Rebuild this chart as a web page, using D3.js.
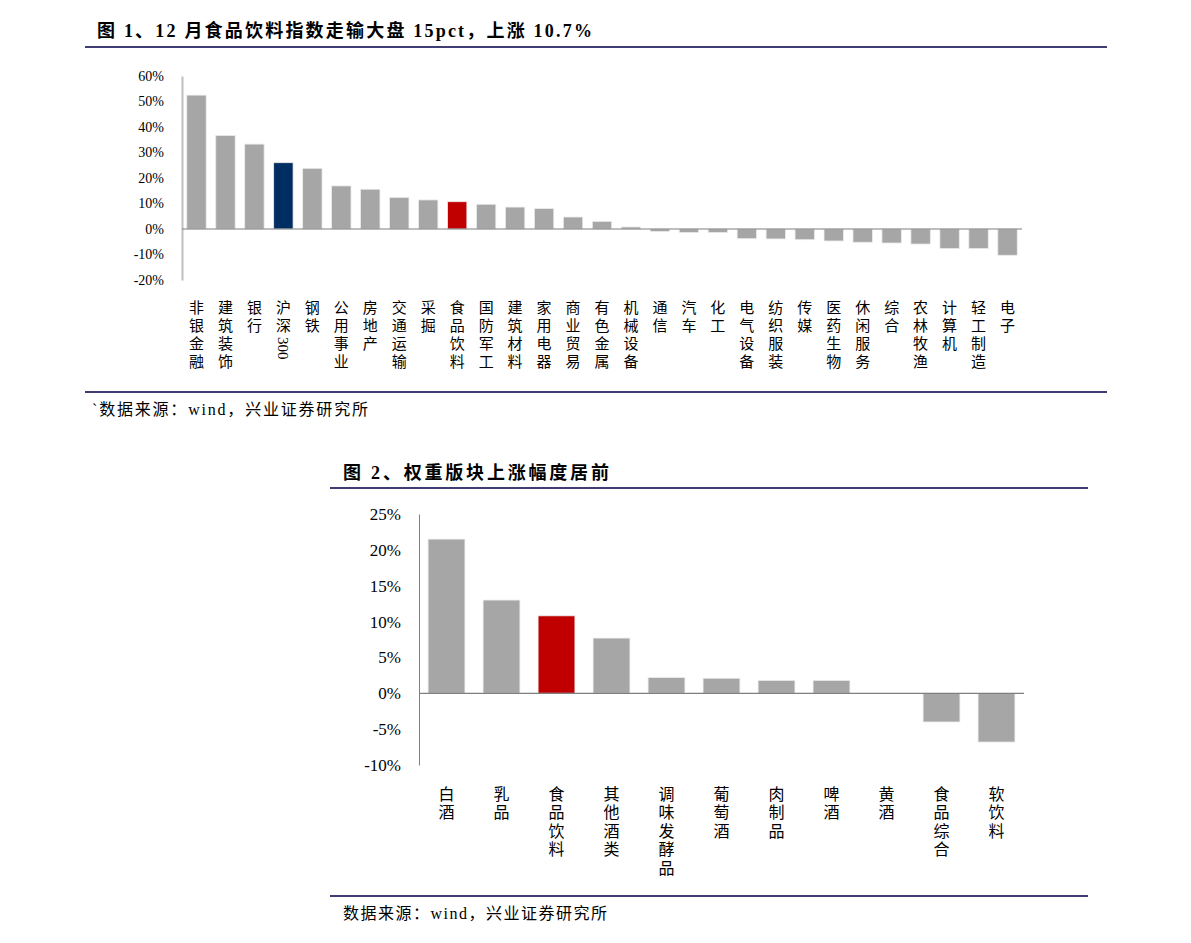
<!DOCTYPE html>
<html>
<head>
<meta charset="utf-8">
<script src="https://cdn.jsdelivr.net/npm/d3@7"></script>
<style>
  body { margin: 0; background: #fff; }
  svg text { font-family: "Liberation Serif", "Noto Sans CJK SC", serif; fill: #000; }
</style>
</head>
<body>
<div id="chart"></div>
<script>
// 图1: 12月各行业涨跌幅 (%)
const industries = ["非银金融", "建筑装饰", "银行", "沪深300", "钢铁", "公用事业", "房地产", "交通运输", "采掘", "食品饮料",
  "国防军工", "建筑材料", "家用电器", "商业贸易", "有色金属", "机械设备", "通信", "汽车", "化工", "电气设备",
  "纺织服装", "传媒", "医药生物", "休闲服务", "综合", "农林牧渔", "计算机", "轻工制造", "电子"];
const industryValues = [52.5, 36.7, 33.3, 26.0, 23.8, 16.9, 15.6, 12.4, 11.4, 10.7,
  9.7, 8.6, 8.0, 4.7, 3.0, 0.8, -1.0, -1.4, -1.4, -3.8,
  -3.9, -4.2, -4.7, -5.2, -5.5, -5.9, -7.7, -7.7, -10.3];
const industryTicks = [-20, -10, 0, 10, 20, 30, 40, 50, 60];

// 图2: 食品饮料子版块涨跌幅 (%)
const foodSubs = ["白酒", "乳品", "食品饮料", "其他酒类", "调味发酵品", "葡萄酒", "肉制品", "啤酒", "黄酒", "食品综合", "软饮料"];
const foodValues = [21.5, 13.0, 10.8, 7.7, 2.2, 2.1, 1.8, 1.8, 0.0, -4.0, -6.8];
const foodTicks = [-10, -5, 0, 5, 10, 15, 20, 25];

const navyCats = ["沪深300"];
const redCats = ["食品饮料"];

const svg = d3.select("#chart").append("svg")
  .attr("width", 1191)
  .attr("height", 943);

function barColor(name) {
  if (navyCats.includes(name)) return "#002d62";
  if (redCats.includes(name)) return "#c00000";
  return "#a6a6a6";
}

// split a label into vertical tokens, runs of digits stay together (drawn sideways)
function tokens(label) {
  return label.match(/[0-9]+|./g);
}

function drawChart(o) {
  const x = d3.scaleBand()
    .domain(o.cats)
    .range([o.left, o.right])
    .paddingInner(o.pad)
    .paddingOuter(o.pad / 2);

  const y = d3.scaleLinear()
    .domain(d3.extent(o.ticks))
    .range([o.bottom, o.top]);

  const data = o.cats.map((c, i) => ({ cat: c, value: o.values[i] }));

  // y axis
  const yAxis = svg.append("g")
    .attr("transform", `translate(${o.left},0)`)
    .call(d3.axisLeft(y).tickValues(o.ticks).tickSize(0).tickPadding(o.tickPad).tickFormat(d => d + "%"));
  yAxis.select(".domain")
    .attr("stroke", o.axisColor)
    .attr("stroke-width", o.axisWidth);
  yAxis.selectAll("text")
    .attr("font-size", o.tickSize)
    .attr("font-family", "Liberation Serif, serif")
    .attr("fill", "#000");

  // bars
  svg.append("g").selectAll("rect")
    .data(data)
    .enter()
    .append("rect")
    .attr("x", d => x(d.cat))
    .attr("y", d => y(Math.max(0, d.value)))
    .attr("width", x.bandwidth())
    .attr("height", d => Math.abs(y(d.value) - y(0)))
    .attr("fill", d => barColor(d.cat))
    .attr("stroke", "#ececec")
    .attr("stroke-width", 0.8);

  // zero line
  svg.append("line")
    .attr("x1", o.left)
    .attr("x2", o.right)
    .attr("y1", y(0))
    .attr("y2", y(0))
    .attr("stroke", "#7f7f7f")
    .attr("stroke-width", 1.2);

  // category labels, one character per row
  const labels = svg.append("g").selectAll("g.label")
    .data(data)
    .enter()
    .append("g")
    .attr("class", "label")
    .attr("transform", d => `translate(${x(d.cat) + x.bandwidth() / 2},${o.labelTop})`);

  labels.each(function (d) {
    const g = d3.select(this);
    let row = 0;
    tokens(d.cat).forEach(t => {
      if (/^[0-9]+$/.test(t)) {
        const yy = row * o.rowH - o.rowH / 2 + 2;
        g.append("text")
          .attr("transform", `translate(0,${yy}) rotate(90)`)
          .attr("dominant-baseline", "central")
          .attr("font-size", o.labelSize)
          .text(t);
        row += t.length * 0.55 + 0.2;
      } else {
        g.append("text")
          .attr("y", row * o.rowH)
          .attr("text-anchor", "middle")
          .attr("dominant-baseline", "central")
          .attr("font-size", o.labelSize)
          .text(t);
        row += 1;
      }
    });
  });
}

drawChart({
  cats: industries, values: industryValues, ticks: industryTicks,
  left: 182, right: 1022, top: 76, bottom: 280, pad: 0.33,
  axisColor: "#bfbfbf", axisWidth: 2, tickSize: 14, tickPad: 18,
  labelTop: 308, rowH: 18, labelSize: 15
});

drawChart({
  cats: foodSubs, values: foodValues, ticks: foodTicks,
  left: 419, right: 1024, top: 514, bottom: 765, pad: 0.33,
  axisColor: "#808080", axisWidth: 1, tickSize: 17, tickPad: 18,
  labelTop: 794, rowH: 18.6, labelSize: 16
});

// titles, rules and sources
const rules = [
  { x1: 85, x2: 1107, y: 47 },
  { x1: 85, x2: 1107, y: 392 },
  { x1: 330, x2: 1088, y: 488 },
  { x1: 330, x2: 1088, y: 896 }
];
svg.selectAll("line.rule")
  .data(rules)
  .enter()
  .append("line")
  .attr("class", "rule")
  .attr("x1", d => d.x1)
  .attr("x2", d => d.x2)
  .attr("y1", d => d.y)
  .attr("y2", d => d.y)
  .attr("stroke", "#3f3d74")
  .attr("stroke-width", 2);

svg.append("text")
  .attr("x", 97).attr("y", 37)
  .attr("font-size", 18).attr("font-weight", "bold")
  .attr("letter-spacing", 2.2)
  .text("图 1、12 月食品饮料指数走输大盘 15pct，上涨 10.7%");

svg.append("text")
  .attr("x", 92).attr("y", 415)
  .attr("font-size", 16)
  .attr("letter-spacing", 1.8)
  .text("`数据来源：wind，兴业证券研究所");

svg.append("text")
  .attr("x", 343).attr("y", 479)
  .attr("font-size", 18).attr("font-weight", "bold")
  .attr("letter-spacing", 2.8)
  .text("图 2、权重版块上涨幅度居前");

svg.append("text")
  .attr("x", 343).attr("y", 919)
  .attr("font-size", 16)
  .attr("letter-spacing", 1.5)
  .text("数据来源：wind，兴业证券研究所");
</script>
</body>
</html>
